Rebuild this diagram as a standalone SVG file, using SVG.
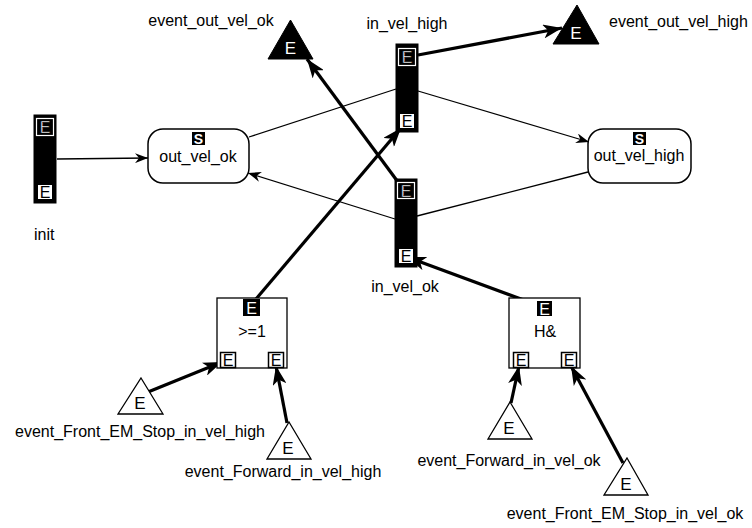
<svg xmlns="http://www.w3.org/2000/svg" width="752" height="528" viewBox="0 0 752 528">
<defs>
<style>
text{font-family:"Liberation Sans",Arial,sans-serif;font-size:16px;fill:#000}
.mid{text-anchor:middle}
.bar{fill:#000;stroke:#000}
.st{fill:#fff;stroke:#000;stroke-width:1.5}
.box{fill:#fff;stroke:#000;stroke-width:1.3}
.thin{fill:none;stroke:#000;stroke-width:1.3}
.thick{fill:none;stroke:#000;stroke-width:3.2}
.ew{fill:#fff;font-size:16px;text-anchor:middle}
.eb{fill:#000;font-size:16px;text-anchor:middle}
.et{font-size:17px;text-anchor:middle}
.fr{fill:#000;stroke:#fff;stroke-width:1.2}
.wb{fill:#fff;stroke:#000;stroke-width:1.5}
.badge{fill:#000}
.s{fill:#fff;font-size:14px;font-weight:bold;text-anchor:middle}
.evw{fill:#fff;stroke:#000;stroke-width:1.3}
.evb{fill:#000;stroke:#000}
</style>
<marker id="ta" markerUnits="userSpaceOnUse" markerWidth="14" markerHeight="10" refX="13" refY="5" orient="auto">
<path d="M0,0 L13,5 L0,10 L4,5 z" fill="#000"/>
</marker>
<marker id="ka" markerUnits="userSpaceOnUse" markerWidth="20" markerHeight="14" refX="19" refY="7" orient="auto">
<path d="M0,0 L19,7 L0,14 L5,7 z" fill="#000"/>
</marker>
</defs>

<g id="connectors">
<path class="thin" d="M57,159 L148,158" marker-end="url(#ta)"/>
<path class="thin" d="M249,137 L396,89"/>
<path class="thin" d="M418,91 L589,142" marker-end="url(#ta)"/>
<path class="thin" d="M588,172 L417,216"/>
<path class="thin" d="M395,219 L248,173" marker-end="url(#ta)"/>
<path class="thick" d="M418,55 L562,28" marker-end="url(#ka)"/>
<path class="thick" d="M398,182 L307,59" marker-end="url(#ka)"/>
<path class="thick" d="M256,299 L401,128" marker-end="url(#ka)"/>
<path class="thick" d="M540,306 L407,257" marker-end="url(#ka)"/>
<path class="thick" d="M148,392 L222,362" marker-end="url(#ka)"/>
<path class="thick" d="M287,423 L276,366" marker-end="url(#ka)"/>
<path class="thick" d="M511,403 L519,366" marker-end="url(#ka)"/>
<path class="thick" d="M623,463 L571,366" marker-end="url(#ka)"/>
</g>

<g id="init">
<rect class="bar" x="34" y="115" width="22" height="88"/>
<rect class="fr" x="36.5" y="118.5" width="17" height="17"/>
<text class="ew" x="45" y="133" style="stroke:#000;stroke-width:0.4">E</text>
<rect class="wb" x="37.5" y="184.5" width="15" height="15" style="stroke-width:1"/>
<text class="eb" x="45" y="198">E</text>
<text x="34" y="240">init</text>
</g>

<g id="out_vel_ok">
<rect class="st" x="148" y="129" width="101" height="54" rx="15" ry="15"/>
<rect class="badge" x="192" y="132" width="13" height="13"/>
<text class="s" x="198.5" y="144">S</text>
<text class="mid" x="198" y="162">out_vel_ok</text>
</g>

<g id="out_vel_high">
<rect class="st" x="588" y="129" width="103" height="54" rx="15" ry="15"/>
<rect class="badge" x="633" y="132" width="13" height="13"/>
<text class="s" x="639.5" y="144">S</text>
<text class="mid" x="639" y="161">out_vel_high</text>
</g>

<g id="in_vel_high">
<rect class="bar" x="396" y="44" width="22" height="88"/>
<rect class="fr" x="398.5" y="48.5" width="17" height="17"/>
<text class="ew" x="407" y="63" style="stroke:#000;stroke-width:0.4">E</text>
<rect class="wb" x="399.5" y="113.5" width="15" height="15" style="stroke-width:1"/>
<text class="eb" x="407" y="127">E</text>
<text class="mid" x="407" y="29">in_vel_high</text>
</g>

<g id="in_vel_ok">
<rect class="bar" x="395" y="179" width="22" height="88"/>
<rect class="fr" x="397.5" y="182.5" width="17" height="16"/>
<text class="ew" x="406" y="197" style="stroke:#000;stroke-width:0.4">E</text>
<rect class="wb" x="398.5" y="248.5" width="15" height="15" style="stroke-width:1"/>
<text class="eb" x="406" y="262">E</text>
<text class="mid" x="405" y="292">in_vel_ok</text>
</g>

<g id="or_block">
<rect class="box" x="217" y="298" width="70" height="70"/>
<rect class="badge" x="243" y="299" width="17" height="17"/>
<text class="ew" x="251.5" y="314">E</text>
<text class="mid" x="252" y="337">&gt;=1</text>
<rect class="wb" x="220.5" y="352.5" width="15" height="15"/>
<text class="eb" x="228" y="366">E</text>
<rect class="wb" x="268.5" y="352.5" width="15" height="15"/>
<text class="eb" x="276" y="366">E</text>
</g>

<g id="and_block">
<rect class="box" x="509" y="298" width="71" height="70"/>
<rect class="badge" x="537" y="301" width="15" height="15"/>
<text class="ew" x="544.5" y="315">E</text>
<text class="mid" x="545" y="337">H&amp;</text>
<rect class="wb" x="513.5" y="352.5" width="15" height="15"/>
<text class="eb" x="521" y="366">E</text>
<rect class="wb" x="561.5" y="352.5" width="15" height="15"/>
<text class="eb" x="569" y="366">E</text>
</g>

<g id="event_out_vel_ok">
<path class="evb" d="M290.5,20 L313,59 L268,59 Z"/>
<text class="et" x="290.5" y="54" style="fill:#fff">E</text>
<text class="mid" x="211" y="26">event_out_vel_ok</text>
</g>

<g id="event_out_vel_high">
<path class="evb" d="M577,5 L599,44 L553,44 Z"/>
<text class="et" x="576" y="39" style="fill:#fff">E</text>
<text x="609" y="27">event_out_vel_high</text>
</g>

<g id="event_Front_EM_Stop_in_vel_high">
<path class="evw" d="M141,378 L163,414 L118,414 Z"/>
<text class="et" x="140" y="409">E</text>
<text class="mid" x="140" y="437">event_Front_EM_Stop_in_vel_high</text>
</g>

<g id="event_Forward_in_vel_high">
<path class="evw" d="M289,422 L311,459 L267,459 Z"/>
<text class="et" x="288" y="454">E</text>
<text class="mid" x="283" y="477">event_Forward_in_vel_high</text>
</g>

<g id="event_Forward_in_vel_ok">
<path class="evw" d="M510,402 L532,439 L488,439 Z"/>
<text class="et" x="509" y="434">E</text>
<text class="mid" x="509" y="466">event_Forward_in_vel_ok</text>
</g>

<g id="event_Front_EM_Stop_in_vel_ok">
<path class="evw" d="M627,458 L648,495 L604,495 Z"/>
<text class="et" x="626" y="490">E</text>
<text class="mid" x="625" y="519">event_Front_EM_Stop_in_vel_ok</text>
</g>
</svg>
